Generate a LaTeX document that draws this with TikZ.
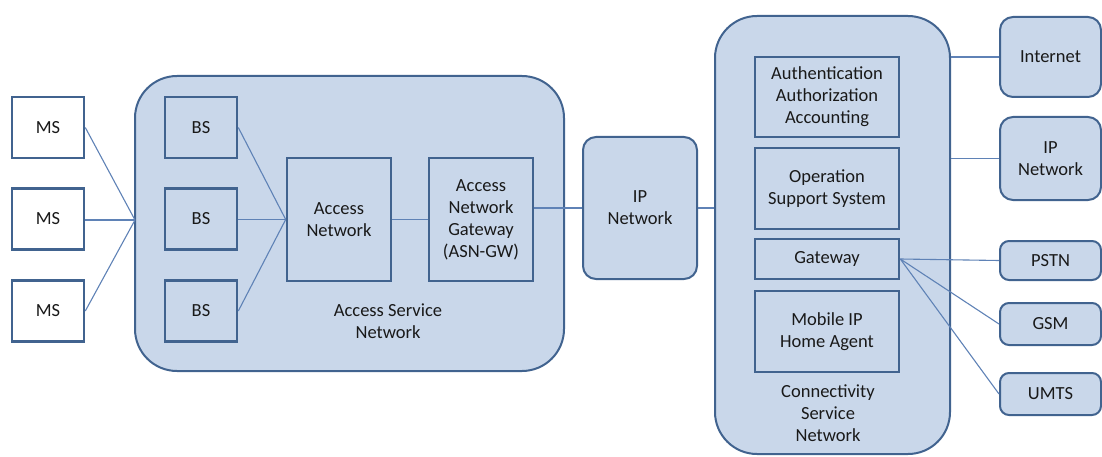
\documentclass[tikz,border=0pt]{standalone}
\usepackage{fontspec}
\setmainfont{Carlito}
\begin{document}
\begin{tikzpicture}[x=1pt,y=-1pt,
  every node/.style={font=\fontsize{18.5}{22}\selectfont, text=black!90, align=center, inner sep=0pt},
  bigbox/.style={draw=edgeblue, fill=fillblue, line width=2pt, rounded corners=42pt},
  rbox/.style={draw=edgeblue, fill=fillblue, line width=2pt, rounded corners=13pt},
  ibox/.style={draw=edgeblue, fill=fillblue, line width=2.6pt},
  wbox/.style={draw=edgeblue, fill=white, line width=2.6pt},
  conn/.style={draw=lineblue, line width=1.1pt}]
\definecolor{edgeblue}{HTML}{41638F}
\definecolor{fillblue}{HTML}{C9D7EA}
\definecolor{lineblue}{HTML}{5F82B6}
\useasboundingbox (0,0) rectangle (1102,457);
% big containers
\node[bigbox, minimum width=429pt, minimum height=295pt] (asn) at (349.5,223.5) {};
\node[bigbox, minimum width=235pt, minimum height=438pt] (csn) at (832.5,235) {};
\node[rbox, minimum width=114pt, minimum height=142pt] (ipn) at (640,208) {IP\\Network};
% MS
\node[wbox, minimum width=72pt, minimum height=61pt] (ms1) at (48,127.5) {MS};
\node[wbox, minimum width=72pt, minimum height=61pt] (ms2) at (48,219) {MS};
\node[wbox, minimum width=72pt, minimum height=61pt] (ms3) at (48,311) {MS};
\coordinate (conv) at (135,220);
% BS
\node[ibox, minimum width=72pt, minimum height=61pt] (bs1) at (201,127.5) {BS};
\node[ibox, minimum width=72pt, minimum height=61pt] (bs2) at (201,219) {BS};
\node[ibox, minimum width=72pt, minimum height=61pt] (bs3) at (201,311) {BS};
\node[ibox, minimum width=104pt, minimum height=123pt] (an) at (339,219.5) {Access\\Network};
\node[ibox, minimum width=104pt, minimum height=123pt] (gw) at (481,219.5) {Access\\Network\\Gateway\\(ASN-GW)};
\node (asnl) at (388,321) {Access Service\\Network};
% CSN inner
\node[ibox, minimum width=144pt, minimum height=80pt] (aaa) at (827,97) {Authentication\\Authorization\\Accounting};
\node[ibox, minimum width=144pt, minimum height=81pt] (oss) at (827,188.5) {Operation\\Support System};
\node[ibox, minimum width=144pt, minimum height=40pt] (gwc) at (827,259) {Gateway};
\node[ibox, minimum width=144pt, minimum height=81pt] (mip) at (827,331.5) {Mobile IP\\Home Agent};
\node (csnl) at (828,413) {Connectivity\\Service\\Network};
% right side
\node[rbox, minimum width=101pt, minimum height=80pt] (inet) at (1050.5,57) {Internet};
\node[rbox, minimum width=101pt, minimum height=83pt] (ipr) at (1050.5,158.5) {IP\\Network};
\node[rbox, rounded corners=9pt, minimum width=101pt, minimum height=39pt] (pstn) at (1050.5,260.5) {PSTN};
\node[rbox, rounded corners=9pt, minimum width=101pt, minimum height=42pt] (gsm) at (1050.5,324) {GSM};
\node[rbox, rounded corners=9pt, minimum width=101pt, minimum height=42pt] (umts) at (1050.5,394) {UMTS};
% connectors
\draw[conn] (ms1.east) -- (conv);
\draw[conn] (ms2.east |- conv) -- (conv);
\draw[conn] (ms3.east) -- (conv);
\draw[conn] (bs1.east) -- (an.west);
\draw[conn] (bs2.east |- an.west) -- (an.west);
\draw[conn] (bs3.east) -- (an.west);
\draw[conn] (an.east) -- (gw.west);
\draw[conn] (gw.east |- ipn.west) -- (ipn.west);
\draw[conn] (ipn.east) -- (ipn.east -| csn.west);
\draw[conn] (inet.west -| csn.east) -- (inet.west);
\draw[conn] (ipr.west -| csn.east) -- (ipr.west);
\draw[conn] (gwc.east) -- (pstn.west);
\draw[conn] (gwc.east) -- (gsm.west);
\draw[conn] (gwc.east) -- (umts.west);
\end{tikzpicture}
\end{document}
